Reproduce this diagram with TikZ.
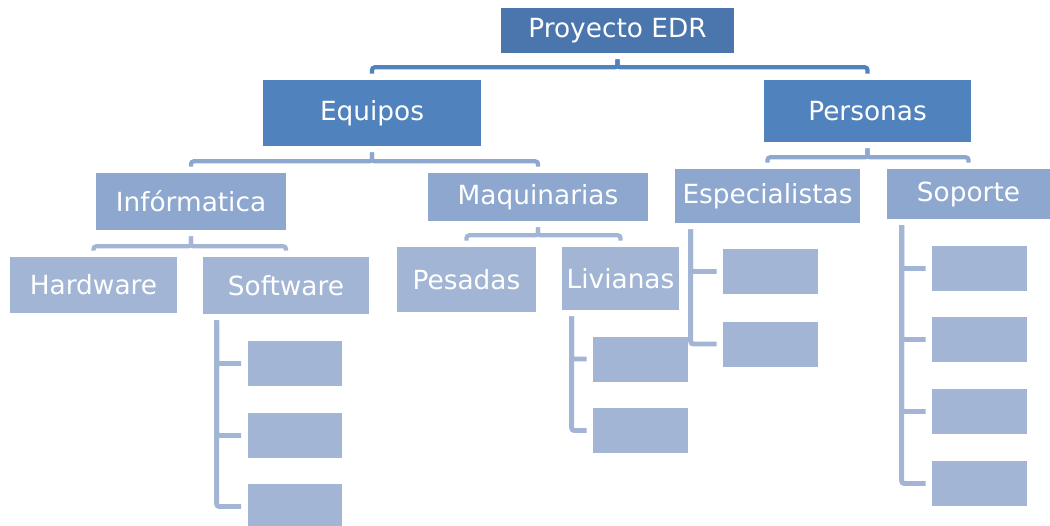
\documentclass[tikz,border=0pt]{standalone}
\usepackage{fontspec}
\setmainfont{DejaVu Sans}
\usetikzlibrary{positioning}
\definecolor{edrTop}{RGB}{74,118,173}
\definecolor{edrTwo}{RGB}{80,130,190}
\definecolor{edrThree}{RGB}{141,167,206}
\definecolor{edrFour}{RGB}{162,181,213}

\begin{document}
\begin{tikzpicture}[
  x=0.02cm, y=-0.02cm,
  font=\fontsize{15}{18}\selectfont,
  box/.style={rectangle, text=white, inner sep=2pt, align=center},
  lvone/.style={box, fill=edrTop},
  lvtwo/.style={box, fill=edrTwo},
  lvthree/.style={box, fill=edrThree},
  lvfour/.style={box, fill=edrFour},
  leaf/.style={lvfour, minimum width=1.9cm, minimum height=0.9cm},
  link/.style={line width=2.4pt, rounded corners=1.5pt,
               shorten <=0.12cm, shorten >=0.12cm},
  sidelink/.style={link, line width=2.8pt, draw=edrFour}
]
\useasboundingbox (0,0) rectangle (1050,525);
\clip (0,0) rectangle (1050,525);

% top levels
\node[lvone, minimum width=4.66cm, minimum height=0.9cm] (proyecto) at (617.5,30.5) {Proyecto EDR};
\node[lvtwo, minimum width=4.36cm, minimum height=1.32cm] (equipos) at (372,113) {Equipos};
\node[lvtwo, minimum width=4.14cm, minimum height=1.24cm] (personas) at (867.5,111) {Personas};

\node[lvthree, minimum width=3.8cm, minimum height=1.14cm] (informatica) at (191,201.5) {Infórmatica};
\node[lvthree, minimum width=4.4cm, minimum height=0.96cm] (maquinarias) at (538,197) {Maquinarias};
\node[lvthree, minimum width=3.7cm, minimum height=1.08cm] (especialistas) at (767.5,196) {Especialistas};
\node[lvthree, minimum width=3.26cm, minimum height=1.0cm] (soporte) at (968.5,194) {Soporte};

\node[lvfour, minimum width=3.34cm, minimum height=1.12cm] (hardware) at (93.5,285) {Hardware};
\node[lvfour, minimum width=3.32cm, minimum height=1.14cm] (software) at (286,285.5) {Software};
\node[lvfour, minimum width=2.78cm, minimum height=1.3cm] (pesadas) at (466.5,279.5) {Pesadas};
\node[lvfour, minimum width=2.34cm, minimum height=1.26cm] (livianas) at (620.5,278.5) {Livianas};

% empty leaves
\node[leaf] (soft1) at (295,363.5) {};
\node[leaf] (soft2) at (295,435.5) {};
\node[leaf] (soft3) at (295,506.5) {};
\node[leaf] (livi1) at (640.5,359) {};
\node[leaf] (livi2) at (640.5,430.5) {};
\node[leaf] (espe1) at (770.5,271.5) {};
\node[leaf] (espe2) at (770.5,344) {};
\node[leaf] (sopo1) at (979.5,268.5) {};
\node[leaf] (sopo2) at (979.5,339.5) {};
\node[leaf] (sopo3) at (979.5,411.5) {};
\node[leaf] (sopo4) at (979.5,483.5) {};

% brackets
\draw[link, draw=edrTwo] (proyecto.south) -- ++(0,14) -| (equipos.north);
\draw[link, draw=edrTwo] (proyecto.south) -- ++(0,14) -| (personas.north);
\draw[link, draw=edrThree] (equipos.south) -- ++(0,15) -| (informatica.north);
\draw[link, draw=edrThree] (equipos.south) -- ++(0,15) -| (maquinarias.north);
\draw[link, draw=edrThree] (personas.south) -- ++(0,15) -| (especialistas.north);
\draw[link, draw=edrThree] (personas.south) -- ++(0,15) -| (soporte.north);
\draw[link, draw=edrFour] (informatica.south) -- ++(0,16) -| (hardware.north);
\draw[link, draw=edrFour] (informatica.south) -- ++(0,16) -| (software.north);
\draw[link, draw=edrFour] (maquinarias.south) -- ++(0,14) -| (pesadas.north);
\draw[link, draw=edrFour] (maquinarias.south) -- ++(0,14) -| (livianas.north);

% side trees
\draw[sidelink] ([xshift=0.28cm]software.south west) |- (soft1.west);
\draw[sidelink] ([xshift=0.28cm]software.south west) |- (soft2.west);
\draw[sidelink] ([xshift=0.28cm]software.south west) |- (soft3.west);
\draw[sidelink] ([xshift=0.2cm]livianas.south west) |- (livi1.west);
\draw[sidelink] ([xshift=0.2cm]livianas.south west) |- (livi2.west);
\draw[sidelink] ([xshift=0.32cm]especialistas.south west) |- (espe1.west);
\draw[sidelink] ([xshift=0.32cm]especialistas.south west) |- (espe2.west);
\draw[sidelink] ([xshift=0.3cm]soporte.south west) |- (sopo1.west);
\draw[sidelink] ([xshift=0.3cm]soporte.south west) |- (sopo2.west);
\draw[sidelink] ([xshift=0.3cm]soporte.south west) |- (sopo3.west);
\draw[sidelink] ([xshift=0.3cm]soporte.south west) |- (sopo4.west);
\end{tikzpicture}
\end{document}
